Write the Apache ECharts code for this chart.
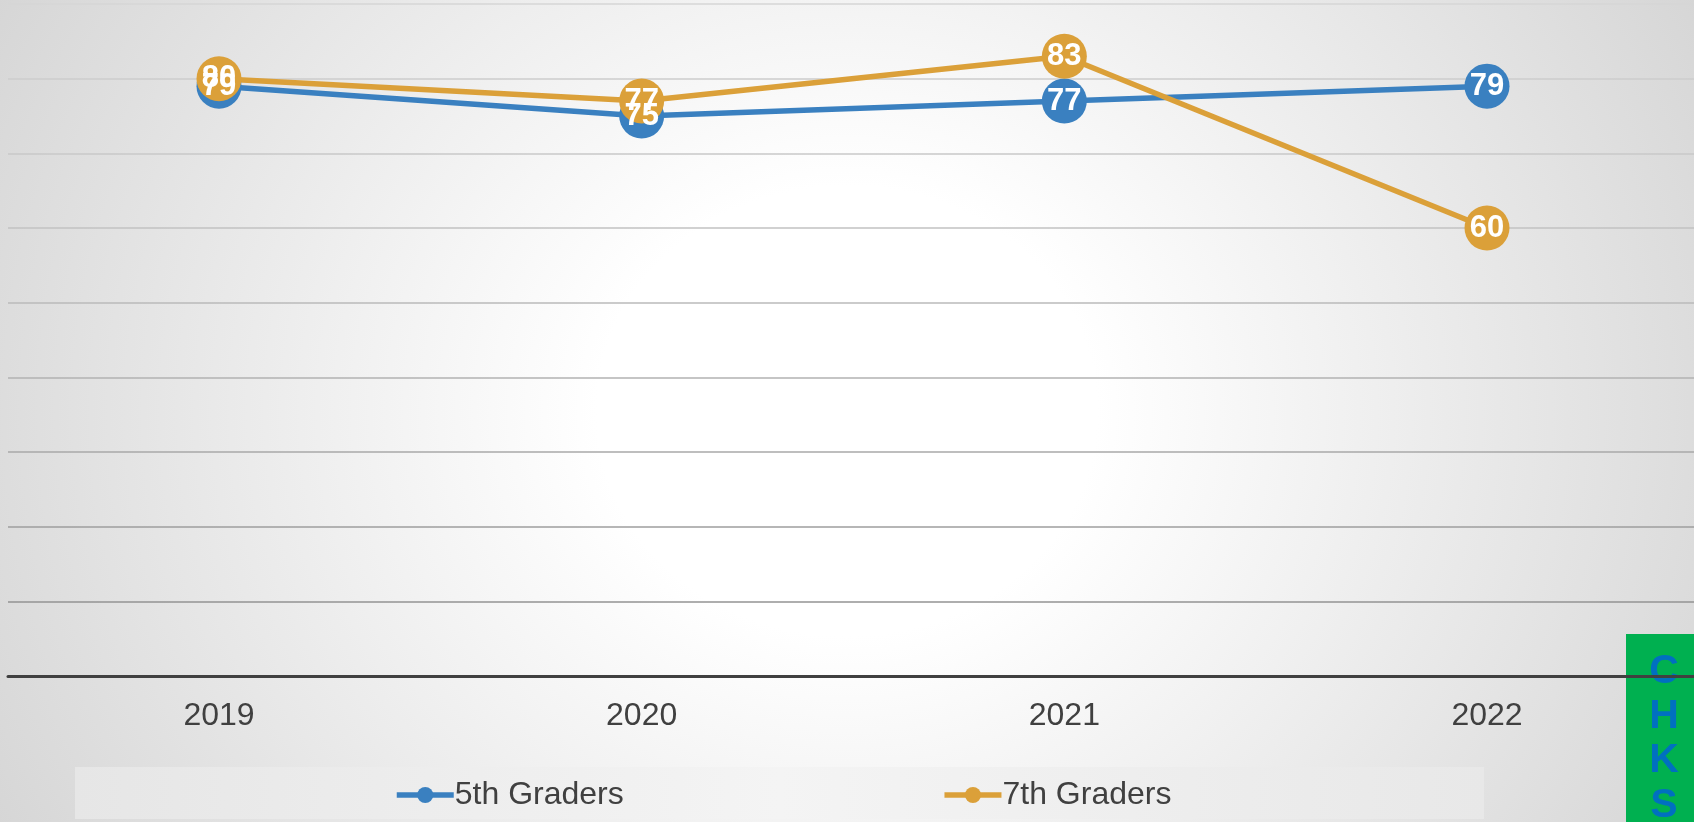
<!DOCTYPE html>
<html>
<head>
<meta charset="utf-8">
<script src="https://cdn.jsdelivr.net/npm/echarts@6/dist/echarts.min.js"></script>
<style>
  html, body { margin: 0; padding: 0; }
  #chart {
    width: 1694px; height: 822px;
    background: radial-gradient(ellipse 1000px 900px at 50% 50%, #ffffff 25%, #d4d4d4 100%);
  }
</style>
</head>
<body>
<div id="chart"></div>
<script>
const categories = ['2019', '2020', '2021', '2022'];
const grade5 = [79, 75, 77, 79];
const grade7 = [80, 77, 83, 60];
const seriesNames = ['5th Graders', '7th Graders'];
const sideLetters = ['C', 'H', 'K', 'S'];

const FONT = '"Liberation Sans", Arial, sans-serif';
const BLUE = '#3A80C0';
const ORANGE = '#DBA039';

const chart = echarts.init(document.getElementById('chart'), null, { renderer: 'canvas' });

function lineSeries(name, data, color) {
  return {
    name: name,
    type: 'line',
    xAxisIndex: 1,
    yAxisIndex: 1,
    data: data,
    symbol: 'circle',
    symbolSize: 45,
    lineStyle: { color: color, width: 5.5 },
    itemStyle: { color: color },
    emphasis: { disabled: true },
    label: {
      show: true,
      position: 'inside',
      color: '#ffffff',
      fontFamily: FONT,
      fontWeight: 'bold',
      fontSize: 31
    },
    animation: false
  };
}

const option = {
  animation: false,
  backgroundColor: 'transparent',
  grid: [
    { left: 8, right: 0, top: 4, height: 672, containLabel: false },
    { left: 219, width: 1268, top: 4, height: 672, containLabel: false }
  ],
  xAxis: [
    {
      gridIndex: 0,
      type: 'category',
      data: categories,
      axisLine: { show: true, lineStyle: { color: '#404040', width: 3 } },
      axisTick: { show: false },
      axisLabel: { show: false },
      splitLine: { show: false }
    },
    {
      gridIndex: 1,
      type: 'category',
      data: categories,
      boundaryGap: false,
      axisLine: { show: false },
      axisTick: { show: false },
      axisLabel: { color: '#404040', fontSize: 32, fontFamily: FONT, margin: 24 },
      splitLine: { show: false }
    }
  ],
  yAxis: [
    {
      gridIndex: 0,
      type: 'value',
      min: 0, max: 90, interval: 10,
      axisLine: { show: false },
      axisTick: { show: false },
      axisLabel: { show: false },
      splitLine: {
        show: true,
        lineStyle: {
          width: 1.5,
          color: ['#888888', '#939393', '#9e9e9e', '#a8a8a8', '#b2b2b2', '#bababa', '#c2c2c2', '#c8c8c8', '#cdcdcd', '#d6d6d6']
        }
      }
    },
    {
      gridIndex: 1,
      type: 'value',
      min: 0, max: 90, interval: 10,
      axisLine: { show: false },
      axisTick: { show: false },
      axisLabel: { show: false },
      splitLine: { show: false }
    }
  ],
  legend: {
    data: seriesNames,
    left: 394,
    top: 779,
    padding: 0,
    itemGap: 318,
    itemWidth: 57,
    itemHeight: 20,
    lineStyle: { width: 5.5 },
    textStyle: { color: '#404040', fontSize: 32, fontFamily: FONT, lineHeight: 32, padding: [0, 0, 0, -4] },
    selectedMode: false
  },
  graphic: [
    {
      type: 'rect',
      z: -1,
      shape: { x: 75, y: 767, width: 1409, height: 52 },
      style: {
        fill: new echarts.graphic.LinearGradient(0, 0, 1, 0, [
          { offset: 0, color: '#e6e6e6' },
          { offset: 0.5, color: '#f4f4f4' },
          { offset: 1, color: '#e8e8e8' }
        ])
      }
    },
    {
      type: 'group',
      z: 100,
      children: [
        { type: 'rect', shape: { x: 1626, y: 634, width: 70, height: 190 }, style: { fill: '#00B050' } }
      ].concat(sideLetters.map((ch, i) => ({
        type: 'text',
        x: 1664, y: 672 + i * 44.5,
        style: {
          text: ch, fill: '#0070C0', font: 'bold 41px ' + FONT,
          align: 'center', verticalAlign: 'middle'
        }
      })))
    }
  ],
  series: [
    lineSeries(seriesNames[0], grade5, BLUE),
    lineSeries(seriesNames[1], grade7, ORANGE)
  ]
};

chart.setOption(option);
</script>
</body>
</html>
